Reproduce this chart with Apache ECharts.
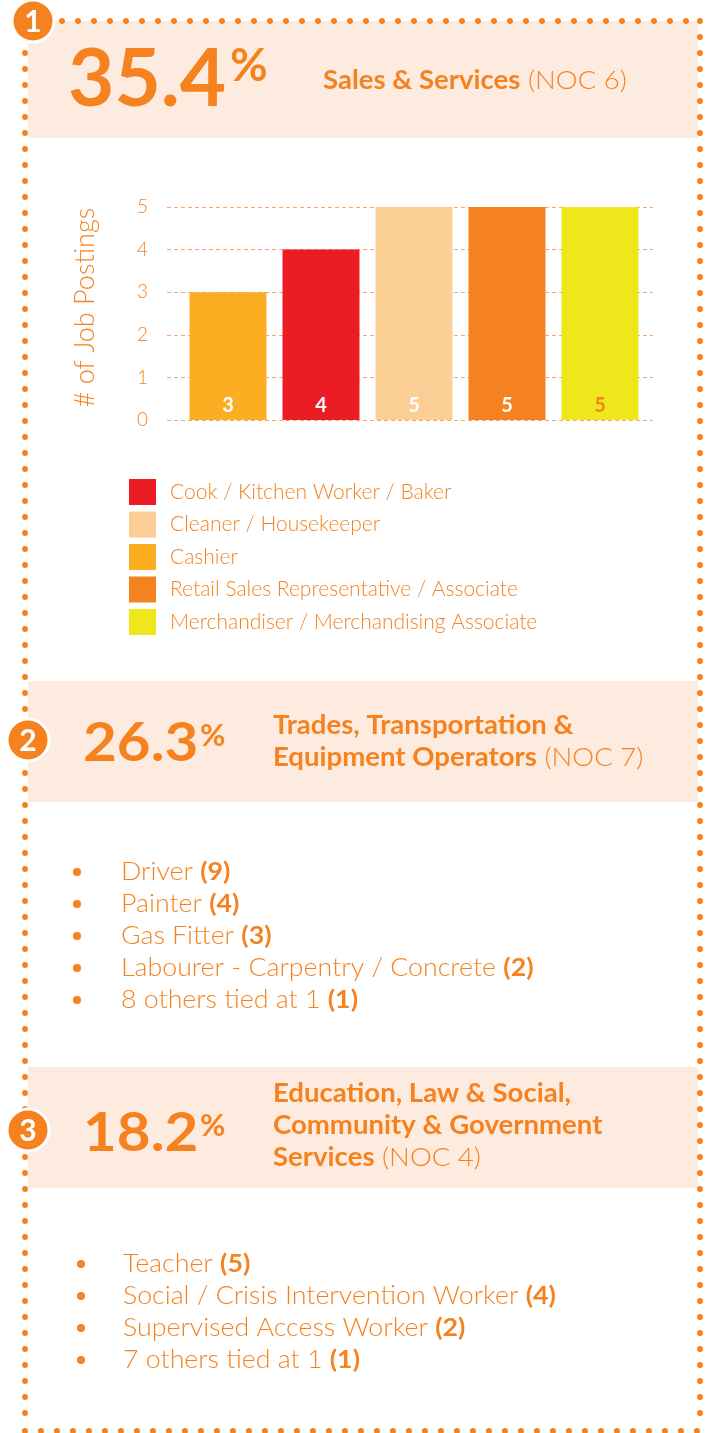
<!DOCTYPE html>
<html>
<head>
<meta charset="utf-8">
<script src="https://cdn.jsdelivr.net/npm/echarts@6/dist/echarts.min.js"></script>
<style>
  html, body { margin: 0; padding: 0; background: #fff; }
  #chart { width: 713px; height: 1433px; }
</style>
</head>
<body>
<div id="chart"></div>
<script>
// bar chart data (bar order, left to right)
const occupations = ['Cashier', 'Cook / Kitchen Worker / Baker', 'Cleaner / Housekeeper',
  'Retail Sales Representative / Associate', 'Merchandiser / Merchandising Associate'];
const postings = [3, 4, 5, 5, 5];
const legendOrder = ['Cook / Kitchen Worker / Baker', 'Cleaner / Housekeeper', 'Cashier',
  'Retail Sales Representative / Associate', 'Merchandiser / Merchandising Associate'];

// the three occupation groups
const shares = ['35.4', '26.3', '18.2'];
const groupTitles = [
  ['Sales & Services'],
  ['Trades, Transportation &', 'Equipment Operators'],
  ['Education, Law & Social,', 'Community & Government', 'Services']
];
const nocCodes = ['(NOC 6)', '(NOC 7)', '(NOC 4)'];
const tradesJobs = ['Driver', 'Painter', 'Gas Fitter', 'Labourer - Carpentry / Concrete', '8 others tied at 1'];
const tradesCounts = [9, 4, 3, 2, 1];
const educationJobs = ['Teacher', 'Social / Crisis Intervention Worker', 'Supervised Access Worker', '7 others tied at 1'];
const educationCounts = [5, 4, 2, 1];

// styles
const ORANGE = '#F5821F';
const BAND = '#FDEBDF';
const FONT = 'Lato, "Open Sans", sans-serif';
const barColors = {
  'Cashier': '#FBAE22',
  'Cook / Kitchen Worker / Baker': '#EC1C24',
  'Cleaner / Housekeeper': '#FBCE96',
  'Retail Sales Representative / Associate': '#F58220',
  'Merchandiser / Merchandising Associate': '#EFE61C'
};
const labelColors = {
  'Merchandiser / Merchandising Associate': ORANGE
};

const chart = echarts.init(document.getElementById('chart'));

const dots = (x1, y1, x2, y2) => ({
  type: 'line', z: 10,
  shape: { x1, y1, x2, y2 },
  style: { stroke: ORANGE, lineWidth: 6, lineDash: [0, 16], lineCap: 'round' }
});

const band = (y, h) => ({
  type: 'rect', z: 1,
  shape: { x: 28, y: y, width: 670, height: h },
  style: { fill: BAND }
});

const badge = (cx, cy, r, n) => ([
  { type: 'circle', z: 20, shape: { cx, cy, r }, style: { fill: ORANGE, stroke: '#fff', lineWidth: 3 } },
  { type: 'text', z: 21, x: cx, y: cy + 1,
    style: { text: String(n), fill: '#fff', font: 'bold 30px ' + FONT, align: 'center', verticalAlign: 'middle' } }
]);

// big share number with a small raised percent sign
const percent = (value, x, cy, size, sx, px, pcy, psize) => ([
  { type: 'text', z: 5, x: x, y: cy, scaleX: sx,
    style: { text: value, fill: ORANGE, font: 'bold ' + size + 'px ' + FONT, verticalAlign: 'middle' } },
  { type: 'text', z: 5, x: px, y: pcy,
    style: { text: '%', fill: ORANGE, font: 'bold ' + psize + 'px ' + FONT, verticalAlign: 'middle' } }
]);

const title = (x, cy, i) => {
  const lines = groupTitles[i].map(t => '{b|' + t + '}');
  lines[lines.length - 1] += ' {l|' + nocCodes[i] + '}';
  return {
    type: 'text', z: 5, x: x, y: cy, scaleX: 1.06,
    style: {
      text: lines.join('\n'), fill: ORANGE, font: '300 26px ' + FONT, verticalAlign: 'middle',
      rich: {
        b: { fill: ORANGE, fontFamily: FONT, fontWeight: 'bold', fontSize: 26, lineHeight: 32 },
        l: { fill: ORANGE, fontFamily: FONT, fontWeight: 300, fontSize: 26, lineHeight: 32 }
      }
    }
  };
};

const list = (jobs, counts, bx, tx, y0) => {
  const out = [];
  jobs.forEach((job, i) => {
    const cy = y0 + i * 32;
    out.push({ type: 'circle', z: 5, shape: { cx: bx, cy: cy, r: 4 }, style: { fill: ORANGE } });
    out.push({
      type: 'text', z: 5, x: tx, y: cy, scaleX: 1.07,
      style: {
        text: '{l|' + job + '} {b|(' + counts[i] + ')}', fill: ORANGE, font: '300 25px ' + FONT,
        verticalAlign: 'middle',
        rich: {
          l: { fill: ORANGE, fontFamily: FONT, fontWeight: 300, fontSize: 25 },
          b: { fill: ORANGE, fontFamily: FONT, fontWeight: 'bold', fontSize: 25 }
        }
      }
    });
  });
  return out;
};

const graphics = [
  band(21, 117), band(681, 121), band(1067, 121),
  dots(62, 21, 702, 21),
  dots(700, 21, 700, 1429),
  dots(25, 53, 25, 1429),
  dots(25, 1431, 700, 1431),
  ...badge(33, 21, 21, 1), ...badge(28, 740, 21, 2), ...badge(28, 1130, 21, 3),
  ...percent(shares[0], 68, 80, 80, 1.0, 230, 66, 46),
  ...percent(shares[1], 83, 744, 53, 1.1, 200, 736, 31),
  ...percent(shares[2], 83, 1134, 53, 1.1, 200, 1126, 31),
  title(323, 81, 0), title(273, 742, 1), title(273, 1126, 2),
  ...list(tradesJobs, tradesCounts, 77, 121, 872),
  ...list(educationJobs, educationCounts, 81, 123, 1264)
];

const option = {
  animation: false,
  textStyle: { fontFamily: FONT },
  graphic: { elements: graphics },
  legend: {
    data: legendOrder,
    orient: 'vertical',
    left: 124, top: 474,
    itemWidth: 27, itemHeight: 26, itemGap: 6.5,
    icon: 'rect',
    selectedMode: false,
    textStyle: { color: ORANGE, fontSize: 21, fontWeight: 300, fontFamily: FONT, padding: [0, 0, 0, 9] }
  },
  grid: { left: 167, right: 60, top: 207, bottom: 1013, containLabel: false },
  xAxis: { type: 'value', min: 0.344, max: 5.57, show: false },
  yAxis: {
    type: 'value', min: 0, max: 5, interval: 1,
    name: '# of Job Postings', nameLocation: 'middle', nameGap: 68,
    nameTextStyle: { color: ORANGE, fontSize: 27, fontWeight: 300, fontFamily: FONT, padding: [0, 0, 0, 12] },
    axisLine: { show: false },
    axisTick: { show: false },
    axisLabel: { margin: 19, color: ORANGE, fontSize: 19, fontWeight: 300, fontFamily: FONT },
    splitLine: { show: true, lineStyle: { color: '#F6A56E', type: [4, 3], width: 1 } }
  },
  series: occupations.map((name, i) => ({
    name: name,
    type: 'bar',
    barWidth: 77,
    barGap: '-100%',
    data: [[i + 1, postings[i]]],
    itemStyle: { color: barColors[name] },
    label: {
      show: true, position: 'insideBottom', distance: 4,
      color: labelColors[name] || '#fff', fontSize: 20, fontWeight: 'bold', fontFamily: FONT,
      formatter: p => p.value[1]
    }
  }))
};

chart.setOption(option);
</script>
</body>
</html>
